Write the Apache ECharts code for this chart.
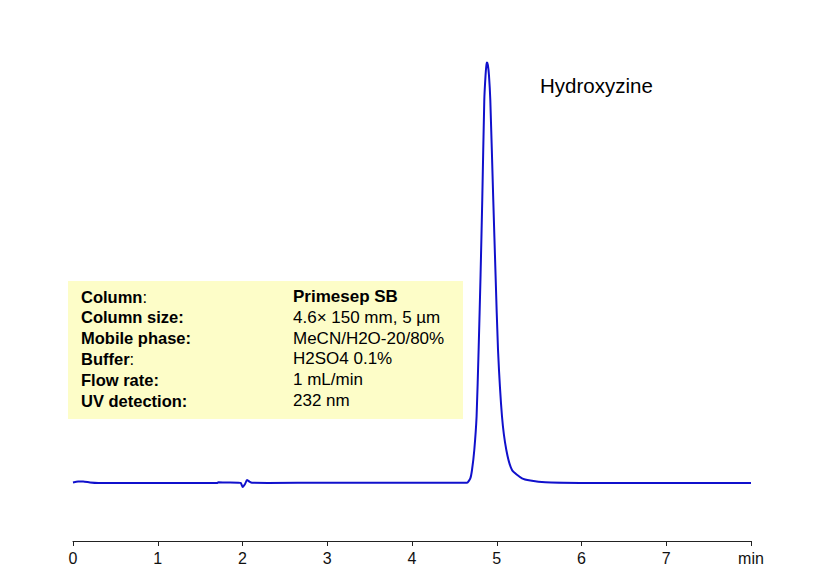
<!DOCTYPE html>
<html>
<head>
<meta charset="utf-8">
<script src="https://cdn.jsdelivr.net/npm/echarts@6/dist/echarts.min.js"></script>
<style>
  html, body { margin: 0; padding: 0; background: #fff; }
  #chart { width: 831px; height: 588px; }
</style>
</head>
<body>
<div id="chart"></div>
<script>
// retention time (min) and detector signal
const times = [
  0, 0.06, 0.12, 0.2, 0.3, 1.0, 1.7, 1.715, 1.8, 1.95, 1.98, 2.003, 2.03, 2.053, 2.08, 2.112, 2.3, 3.0, 4.0, 4.5,
  4.649, 4.688, 4.708, 4.735, 4.762, 4.786, 4.809, 4.829, 4.853, 4.868, 4.878, 4.885, 4.895, 4.908,
  4.924, 4.959, 4.986, 5.015, 5.062, 5.113, 5.18, 5.298, 5.396, 5.573, 5.986, 7.0, 8.0
];
const signal = [
  0.1, 0.3, 0.3, 0.1, 0, 0, 0, 0.14, 0.1, 0.06, 0, -0.8, -0.2, 0.6, 0.3, 0.06, 0.02, 0.04, 0.05, 0.05,
  0.06, 0.94, 2.6, 6.6, 13.3, 26.6, 41.6, 56.6, 76.6, 81.6, 83.6, 84.1, 83.6, 81.6,
  76.6, 56.6, 41.6, 26.6, 13.3, 6.6, 2.6, 0.94, 0.5, 0.14, 0.02, 0, 0
];
const xTicks = ['0', '1', '2', '3', '4', '5', '6', '7', 'min'];

const infoLabels = ['Column', 'Column size:', 'Mobile phase:', 'Buffer', 'Flow rate:', 'UV detection:'];
const infoColons = [':', '', '', ':', '', ''];
const infoValues = ['Primesep SB', '4.6\u00d7 150 mm, 5 \u00b5m', 'MeCN/H2O-20/80%', 'H2SO4 0.1%', '1 mL/min', '232 nm'];
const compound = 'Hydroxyzine';

const font = '"Liberation Sans", Arial, sans-serif';
const chart = echarts.init(document.getElementById('chart'), null, { renderer: 'svg' });

const infoTexts = [];
infoLabels.forEach((lab, i) => {
  infoTexts.push({
    type: 'text', left: 81, top: 288 + i * 20.8,
    style: {
      text: '{b|' + lab + '}{n|' + infoColons[i] + '}',
      rich: {
        b: { fontFamily: font, fontSize: 16.5, fontWeight: 'bold', fill: '#000' },
        n: { fontFamily: font, fontSize: 16.5, fill: '#000' }
      }
    }
  });
  infoTexts.push({
    type: 'text', left: 293, top: 288 + i * 20.8,
    style: {
      text: infoValues[i], fontFamily: font, fontSize: 17,
      fontWeight: i === 0 ? 'bold' : 'normal', fill: '#000'
    }
  });
});

chart.setOption({
  animation: false,
  grid: { left: 73, right: 80, top: 41, bottom: 47 },
  xAxis: {
    type: 'value', min: 0, max: 8, interval: 1,
    axisLine: { show: true, onZero: false, lineStyle: { color: '#222', width: 1 } },
    axisTick: { show: true, length: 5, lineStyle: { color: '#222' } },
    axisLabel: {
      margin: 9, fontSize: 16, color: '#111',
      fontFamily: '"Liberation Sans Narrow", "Arial Narrow", sans-serif',
      formatter: v => xTicks[v]
    },
    splitLine: { show: false }
  },
  yAxis: {
    type: 'value', min: -11.6, max: 88.4, show: false
  },
  graphic: [
    { type: 'rect', shape: { x: 68, y: 281, width: 395, height: 138 }, style: { fill: '#fdfdc8' }, z: -1 },
    ...infoTexts,
    { type: 'text', left: 540, top: 75, style: { text: compound, fontFamily: font, fontSize: 20.5, fill: '#000' } }
  ],
  series: [{
    type: 'line',
    data: times.map((t, i) => [t, signal[i]]),
    showSymbol: false,
    smooth: 0.2,
    lineStyle: { color: '#1010cc', width: 2 },
    z: 5
  }]
});
</script>
</body>
</html>
